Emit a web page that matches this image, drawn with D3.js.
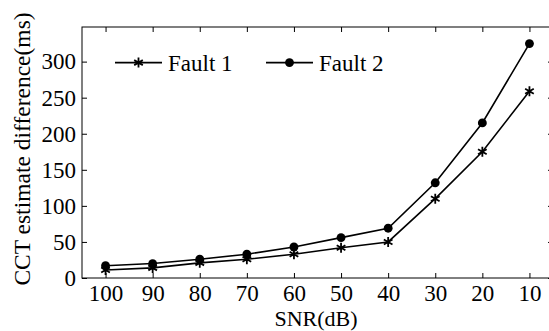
<!DOCTYPE html>
<html>
<head>
<meta charset="utf-8">
<script src="https://cdn.jsdelivr.net/npm/d3@7"></script>
<style>
  body { margin: 0; background: #fff; }
  svg { display: block; }
  text { font-family: "Liberation Serif", "Times New Roman", serif; fill: #000; }
</style>
</head>
<body>
<div id="chart"></div>
<script>
// SNR levels (dB) on the x axis
const snrLabels = ["100", "90", "80", "70", "60", "50", "40", "30", "20", "10"];
// CCT estimate difference (ms)
const fault1 = [11, 14, 21, 26, 33, 42, 50, 110, 175, 259];
const fault2 = [17, 20, 26, 33, 43, 56, 69, 132, 215, 325];
const seriesNames = ["Fault 1", "Fault 2"];
const yTicks = [0, 50, 100, 150, 200, 250, 300];

const width = 549, height = 331;
const margin = { left: 82, right: -4, top: 27, bottom: 53 };

const svg = d3.select("#chart").append("svg")
  .attr("width", width)
  .attr("height", height);

const x = d3.scalePoint()
  .domain(snrLabels)
  .range([margin.left, width - margin.right])
  .padding(0.5);

const y = d3.scaleLinear()
  .domain([0, 348])
  .range([height - margin.bottom, margin.top]);

const x0 = margin.left, x1 = width - margin.right;
const y0 = height - margin.bottom, y1 = margin.top;

// frame
svg.append("rect")
  .attr("x", x0).attr("y", y1)
  .attr("width", x1 - x0).attr("height", y0 - y1)
  .attr("fill", "none").attr("stroke", "#000").attr("stroke-width", 1);

// bottom axis
const xAxis = svg.append("g")
  .attr("transform", `translate(0,${y0})`)
  .call(d3.axisBottom(x).tickSizeInner(-5).tickSizeOuter(0).tickPadding(7));
xAxis.select(".domain").remove();
xAxis.selectAll("text").style("font-size", "23px").attr("dy", "0.71em");

// top ticks
const xTop = svg.append("g")
  .attr("transform", `translate(0,${y1})`)
  .call(d3.axisTop(x).tickSizeInner(-5).tickSizeOuter(0).tickFormat(""));
xTop.select(".domain").remove();

// left axis
const yAxis = svg.append("g")
  .attr("transform", `translate(${x0},0)`)
  .call(d3.axisLeft(y).tickValues(yTicks).tickSizeInner(-5).tickSizeOuter(0).tickPadding(6));
yAxis.select(".domain").remove();
yAxis.selectAll("text").style("font-size", "23px");

// right ticks
const yRight = svg.append("g")
  .attr("transform", `translate(${x1},0)`)
  .call(d3.axisRight(y).tickValues(yTicks).tickSizeInner(-5).tickSizeOuter(0).tickFormat(""));
yRight.select(".domain").remove();

svg.selectAll(".tick line").attr("stroke", "#000");

// lines
const line = d3.line()
  .x((d, i) => x(snrLabels[i]))
  .y(d => y(d));

const star = d3.symbol().type(d3.symbolAsterisk).size(70);
const dot = d3.symbol().type(d3.symbolCircle).size(62);

[fault1, fault2].forEach((vals, k) => {
  svg.append("path")
    .datum(vals)
    .attr("d", line)
    .attr("fill", "none")
    .attr("stroke", "#000")
    .attr("stroke-width", 1.6);

  svg.selectAll(null)
    .data(vals)
    .join("path")
    .attr("transform", (d, i) => `translate(${x(snrLabels[i])},${y(d)})`)
    .attr("d", k === 0 ? star : dot)
    .attr("fill", "#000")
    .attr("stroke", "#000")
    .attr("stroke-width", k === 0 ? 1.8 : 0);
});

// legend
const legendY = y(300) + 1;
const legendX = [115, 266];
seriesNames.forEach((name, k) => {
  const lx = legendX[k];
  svg.append("line")
    .attr("x1", lx).attr("x2", lx + 47)
    .attr("y1", legendY).attr("y2", legendY)
    .attr("stroke", "#000").attr("stroke-width", 1.6);
  svg.append("path")
    .attr("transform", `translate(${lx + 23.5},${legendY})`)
    .attr("d", k === 0 ? star : dot)
    .attr("fill", "#000")
    .attr("stroke", "#000")
    .attr("stroke-width", k === 0 ? 1.8 : 0);
  svg.append("text")
    .attr("x", lx + 53)
    .attr("y", legendY)
    .attr("dy", "0.35em")
    .style("font-size", "23px")
    .text(name);
});

// axis titles
svg.append("text")
  .attr("x", 316)
  .attr("y", 326)
  .attr("text-anchor", "middle")
  .style("font-size", "22px")
  .text("SNR(dB)");

svg.append("text")
  .attr("transform", `translate(30,149) rotate(-90)`)
  .attr("text-anchor", "middle")
  .style("font-size", "23.5px")
  .text("CCT estimate difference(ms)");
</script>
</body>
</html>
